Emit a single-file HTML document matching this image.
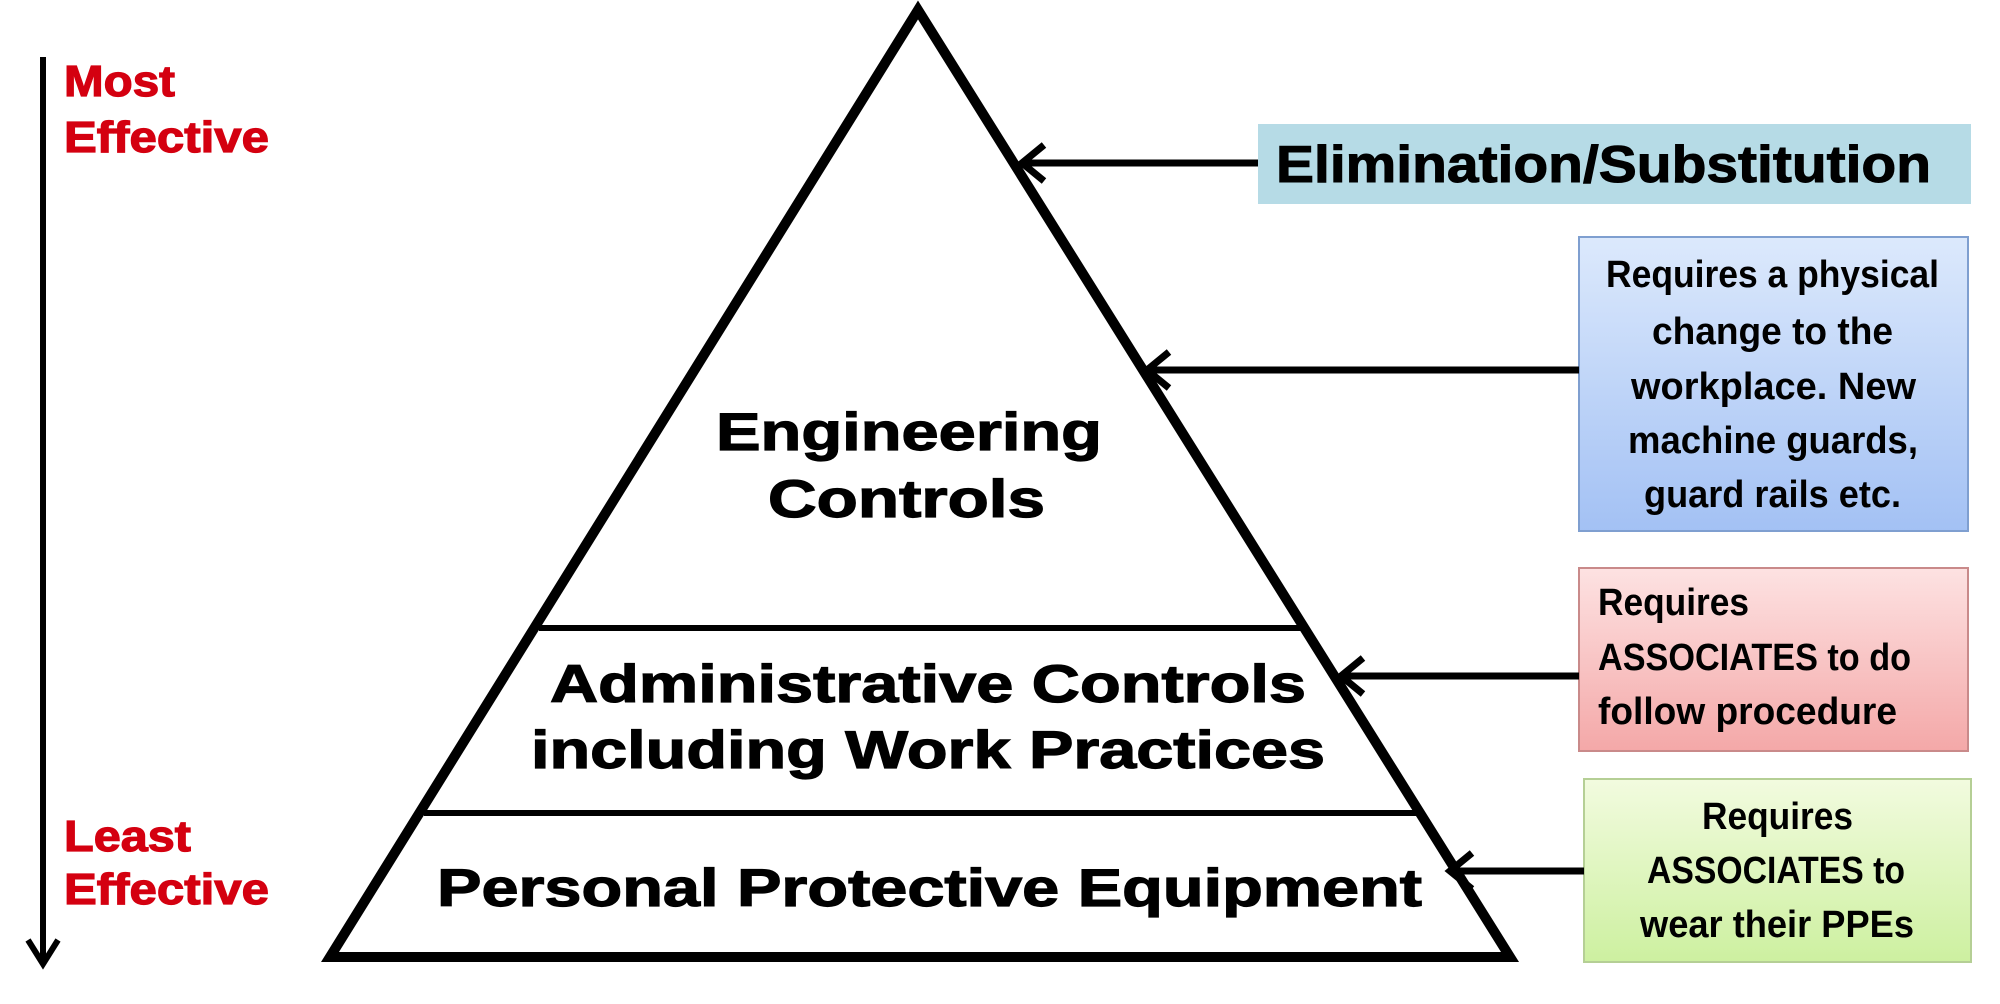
<!DOCTYPE html>
<html><head><meta charset="utf-8"><style>
html,body{margin:0;padding:0;background:#fff;width:2000px;height:1004px;overflow:hidden}
svg{display:block}
text{font-family:"Liberation Sans",sans-serif;font-weight:bold}
</style></head><body>
<svg width="2000" height="1004" viewBox="0 0 2000 1004" xmlns="http://www.w3.org/2000/svg">
<defs>
<linearGradient id="gb" x1="0" y1="0" x2="0" y2="1"><stop offset="0" stop-color="#dce9fc"/><stop offset="1" stop-color="#a3c1f4"/></linearGradient>
<linearGradient id="gr" x1="0" y1="0" x2="0" y2="1"><stop offset="0" stop-color="#fde2e2"/><stop offset="1" stop-color="#f4a8a8"/></linearGradient>
<linearGradient id="gg" x1="0" y1="0" x2="0" y2="1"><stop offset="0" stop-color="#f2fbdf"/><stop offset="1" stop-color="#cdf0a0"/></linearGradient>
</defs>
<line x1="43" y1="57" x2="43" y2="964" stroke="#000" stroke-width="6"/>
<polyline points="28,940 43,964 58,940" fill="none" stroke="#000" stroke-width="6"/>
<g fill="#d40010" stroke="#d40010" stroke-width="1.2" font-size="44">
<text x="64" y="96" textLength="111" lengthAdjust="spacingAndGlyphs">Most</text>
<text x="64" y="152" textLength="205" lengthAdjust="spacingAndGlyphs">Effective</text>
<text x="64" y="851" textLength="127" lengthAdjust="spacingAndGlyphs">Least</text>
<text x="64" y="904" textLength="205" lengthAdjust="spacingAndGlyphs">Effective</text>
</g>
<polygon points="918,10 330,957 1510,957" fill="#fff" stroke="#000" stroke-width="10" stroke-linejoin="miter"/>
<line x1="539" y1="628" x2="1302" y2="628" stroke="#000" stroke-width="6"/>
<line x1="424" y1="813" x2="1417" y2="813" stroke="#000" stroke-width="6"/>
<g fill="#000" stroke="#000" stroke-width="1.2" font-size="53">
<text x="716" y="450" textLength="386" lengthAdjust="spacingAndGlyphs">Engineering</text>
<text x="768" y="517" textLength="277" lengthAdjust="spacingAndGlyphs">Controls</text>
<text x="550" y="702" textLength="756" lengthAdjust="spacingAndGlyphs">Administrative Controls</text>
<text x="531" y="768" textLength="794" lengthAdjust="spacingAndGlyphs">including Work Practices</text>
<text x="437" y="906" textLength="985" lengthAdjust="spacingAndGlyphs">Personal Protective Equipment</text>
</g>
<rect x="1258" y="124" width="713" height="80" fill="#b6dbe6"/>
<text x="1276" y="182" font-size="52" stroke="#000" stroke-width="1" textLength="655" lengthAdjust="spacingAndGlyphs">Elimination/Substitution</text>
<rect x="1579" y="237" width="389" height="294" fill="url(#gb)" stroke="#7f9fd0" stroke-width="2"/>
<rect x="1579" y="568" width="389" height="183" fill="url(#gr)" stroke="#c98a8a" stroke-width="2"/>
<rect x="1584" y="779" width="387" height="183" fill="url(#gg)" stroke="#b5cf95" stroke-width="2"/>
<g fill="#000" font-size="38">
<text x="1606" y="287" textLength="333" lengthAdjust="spacingAndGlyphs">Requires a physical</text>
<text x="1652" y="344" textLength="241" lengthAdjust="spacingAndGlyphs">change to the</text>
<text x="1631" y="399" textLength="285" lengthAdjust="spacingAndGlyphs">workplace. New</text>
<text x="1628" y="453" textLength="290" lengthAdjust="spacingAndGlyphs">machine guards,</text>
<text x="1644" y="507" textLength="257" lengthAdjust="spacingAndGlyphs">guard rails etc.</text>
<text x="1598" y="615" textLength="151" lengthAdjust="spacingAndGlyphs">Requires</text>
<text x="1598" y="670" textLength="313" lengthAdjust="spacingAndGlyphs">ASSOCIATES to do</text>
<text x="1598" y="724" textLength="299" lengthAdjust="spacingAndGlyphs">follow procedure</text>
<text x="1702" y="829" textLength="151" lengthAdjust="spacingAndGlyphs">Requires</text>
<text x="1647" y="883" textLength="258" lengthAdjust="spacingAndGlyphs">ASSOCIATES to</text>
<text x="1640" y="937" textLength="274" lengthAdjust="spacingAndGlyphs">wear their PPEs</text>
</g>
<g stroke="#000" stroke-width="7" fill="none">
<line x1="1258" y1="163" x2="1024" y2="163"/>
<polyline points="1044,145 1022,163 1044,181"/>
<line x1="1579" y1="370" x2="1149" y2="370"/>
<polyline points="1169,352 1147,370 1169,388"/>
<line x1="1579" y1="676" x2="1343" y2="676"/>
<polyline points="1363,658 1341,676 1363,694"/>
<line x1="1584" y1="871" x2="1452" y2="871"/>
<polyline points="1472,853 1450,871 1472,889"/>
</g>
</svg>
</body></html>
